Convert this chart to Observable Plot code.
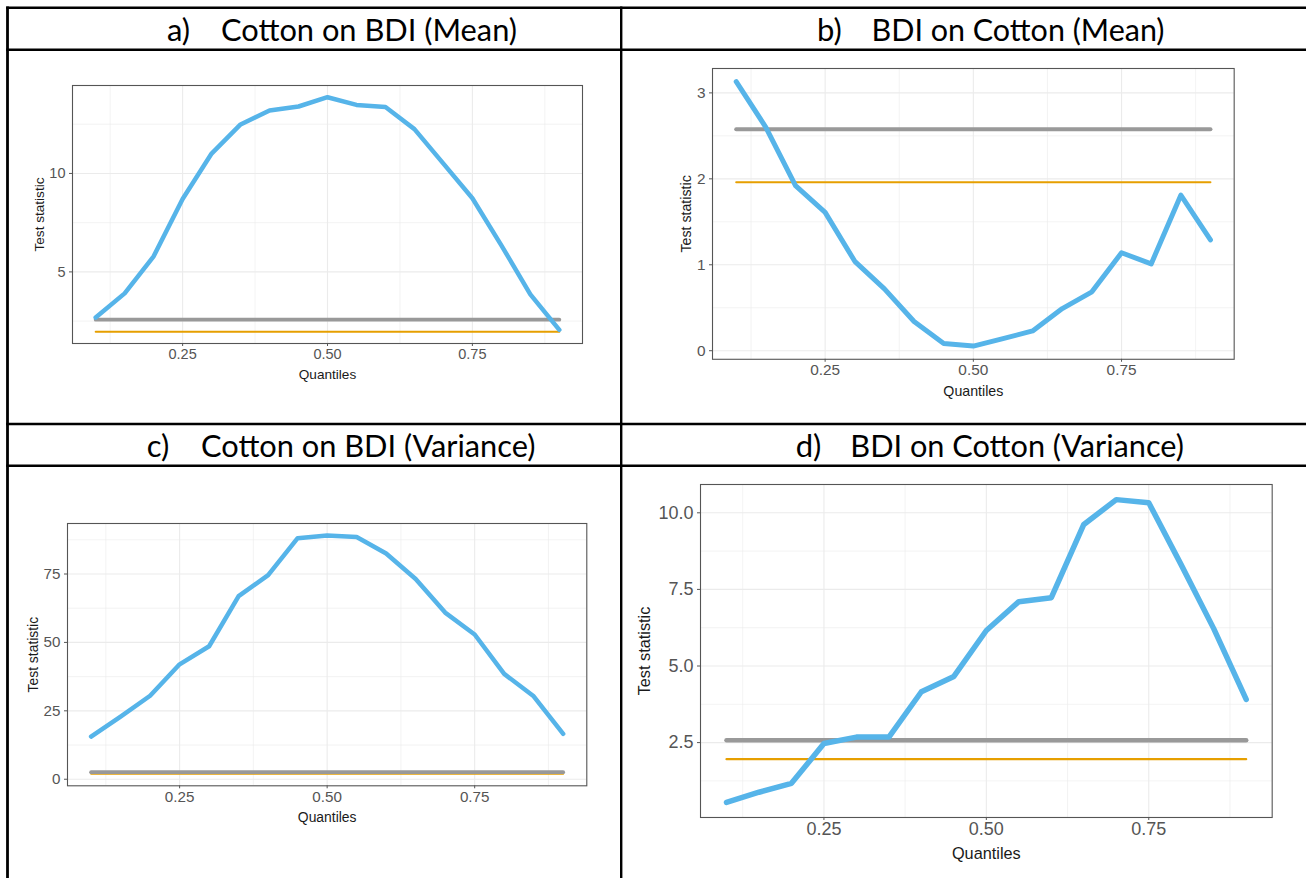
<!DOCTYPE html>
<html>
<head>
<meta charset="utf-8">
<script src="https://cdn.jsdelivr.net/npm/d3@7"></script>
<script src="https://cdn.jsdelivr.net/npm/@observablehq/plot@0.6"></script>
<style>
  html, body { margin: 0; padding: 0; background: #fff; }
  #page { position: relative; width: 1306px; height: 878px; overflow: hidden; background: #fff; }
  .panel { position: absolute; }
  #grid { position: absolute; left: 0; top: 0; z-index: 5; }
</style>
</head>
<body>
<div id="page"></div>
<script>
// Quantile levels at which the causality test statistic was evaluated
const quantiles = [0.10, 0.15, 0.20, 0.25, 0.30, 0.35, 0.40, 0.45, 0.50,
                   0.55, 0.60, 0.65, 0.70, 0.75, 0.80, 0.85, 0.90];

// Test statistics per quantile
const cottonOnBdiMean = [2.68, 3.91, 5.79, 8.70, 11.01, 12.49, 13.20, 13.40, 13.87,
                         13.48, 13.37, 12.25, 10.50, 8.74, 6.35, 3.86, 2.06];
const bdiOnCottonMean = [3.13, 2.60, 1.92, 1.61, 1.04, 0.72, 0.34, 0.085, 0.054,
                         0.14, 0.23, 0.49, 0.685, 1.14, 1.01, 1.81, 1.29];
const cottonOnBdiVariance = [15.6, 22.9, 30.5, 42.0, 48.6, 66.9, 74.6, 88.1, 89.1,
                             88.5, 82.5, 73.2, 60.9, 52.9, 38.5, 30.3, 16.6];
const bdiOnCottonVariance = [0.55, 0.88, 1.17, 2.47, 2.68, 2.68, 4.16, 4.66, 6.16,
                             7.10, 7.23, 9.62, 10.43, 10.33, 8.30, 6.22, 3.91];

// Critical values (5% and 1%)
const crit95 = 1.96;
const crit99 = 2.576;

// Axis ticks
const xTicks = [0.25, 0.50, 0.75];
const xMinorTicks = [0.125, 0.375, 0.625, 0.875];
const yTicksA = [5, 10],            yMinorA = [2.5, 7.5, 12.5];
const yTicksB = [0, 1, 2, 3],       yMinorB = [0.5, 1.5, 2.5];
const yTicksC = [0, 25, 50, 75],    yMinorC = [12.5, 37.5, 62.5, 87.5];
const yTicksD = [2.5, 5, 7.5, 10],  yMinorD = [1.25, 3.75, 6.25, 8.75];

// Panel headings
const panelLetters = ["a)", "b)", "c)", "d)"];
const panelTitles = ["Cotton on BDI (Mean)", "BDI on Cotton (Mean)",
                     "Cotton on BDI (Variance)", "BDI on Cotton (Variance)"];
const xLabel = "Quantiles";
const yLabel = "Test statistic";

const page = document.getElementById("page");
const BLUE = "#56B4E9", GREY = "#999999", ORANGE = "#E69F00";

function panel(values, cfg) {
  const rows = quantiles.map((q, i) => ({q, stat: values[i], z95: crit95, z99: crit99}));
  const all = values.concat([crit95, crit99]);
  const [lo, hi] = d3.extent(all);
  const pad = (hi - lo) * 0.05;
  const xs = d3.extent(quantiles), xpad = (xs[1] - xs[0]) * 0.05;
  const mL = 75, mR = 12, mT = 12, mB = 50;
  const grid = {stroke: "#EBEBEB", strokeOpacity: 1};
  const svg = Plot.plot({
    width: cfg.w + mL + mR,
    height: cfg.h + mT + mB,
    marginLeft: mL, marginRight: mR, marginTop: mT, marginBottom: mB,
    style: {fontFamily: "'Liberation Sans', Arial, sans-serif", background: "transparent", maxWidth: "none", overflow: "visible"},
    x: {domain: [xs[0] - xpad, xs[1] + xpad]},
    y: {domain: [lo - pad, hi + pad]},
    marks: [
      Plot.gridX(xMinorTicks, {...grid, strokeWidth: 0.6}),
      Plot.gridY(cfg.yMinor, {...grid, strokeWidth: 0.6}),
      Plot.gridX(xTicks, {...grid, strokeWidth: 1.1}),
      Plot.gridY(cfg.yTicks, {...grid, strokeWidth: 1.1}),
      Plot.line(rows, {x: "q", y: "z95", stroke: ORANGE, strokeWidth: cfg.wo}),
      Plot.line(rows, {x: "q", y: "z99", stroke: GREY, strokeWidth: cfg.wg}),
      Plot.line(rows, {x: "q", y: "stat", stroke: BLUE, strokeWidth: cfg.wb, strokeLinejoin: "round"}),
      Plot.frame({stroke: "#555555", strokeWidth: 1.1}),
      Plot.axisX(xTicks, {tickSize: 3, tickPadding: 2, tickFormat: d3.format(".2f"), fontSize: cfg.fTick, color: "#555555", label: null}),
      Plot.axisY(cfg.yTicks, {tickSize: 3, tickPadding: 4, tickFormat: cfg.yFormat, fontSize: cfg.fTick, color: "#555555", label: null}),
      Plot.text([xLabel], {frameAnchor: "bottom", dy: cfg.dyX, textAnchor: "middle", lineAnchor: "middle", fontSize: cfg.fTitle, fill: "#1a1a1a"}),
      Plot.text([yLabel], {frameAnchor: "left", dx: -cfg.dxY, rotate: -90, textAnchor: "middle", lineAnchor: "middle", fontSize: cfg.fTitle, fill: "#1a1a1a"})
    ]
  });
  const div = document.createElement("div");
  div.className = "panel";
  div.style.left = (cfg.left - mL) + "px";
  div.style.top = (cfg.top - mT) + "px";
  div.appendChild(svg);
  page.appendChild(div);
}

panel(cottonOnBdiMean, {left: 71.7, top: 85.3, w: 510, h: 258, yTicks: yTicksA, yMinor: yMinorA, yFormat: d3.format("d"),
  wb: 4.5, wg: 3.8, wo: 2, fTick: 14.5, fTitle: 13.6, dyX: 30.7, dxY: 32.7});
panel(bdiOnCottonMean, {left: 712, top: 67.5, w: 521.7, h: 290.8, yTicks: yTicksB, yMinor: yMinorB, yFormat: d3.format("d"),
  wb: 5, wg: 4, wo: 2, fTick: 15.4, fTitle: 14.2, dyX: 32.4, dxY: 26.3});
panel(cottonOnBdiVariance, {left: 66.7, top: 522.7, w: 519.3, h: 262.3, yTicks: yTicksC, yMinor: yMinorC, yFormat: d3.format("d"),
  wb: 4.5, wg: 3.8, wo: 2, fTick: 15.2, fTitle: 13.9, dyX: 31.7, dxY: 34.4});
panel(bdiOnCottonVariance, {left: 700.3, top: 483.7, w: 571.7, h: 333, yTicks: yTicksD, yMinor: yMinorD, yFormat: d3.format(".1f"),
  wb: 5.5, wg: 4.5, wo: 2.2, fTick: 18, fTitle: 16.3, dyX: 36.3, dxY: 55.3});

// Table rules and cell headings
const NS = "http://www.w3.org/2000/svg";
const g = document.createElementNS(NS, "svg");
g.setAttribute("id", "grid");
g.setAttribute("width", 1306);
g.setAttribute("height", 878);
function rule(x1, y1, x2, y2, w) {
  const l = document.createElementNS(NS, "line");
  l.setAttribute("x1", x1); l.setAttribute("y1", y1);
  l.setAttribute("x2", x2); l.setAttribute("y2", y2);
  l.setAttribute("stroke", "#000"); l.setAttribute("stroke-width", w);
  g.appendChild(l);
}
rule(6.2, 7.8, 1306, 7.8, 2.6);
rule(6.2, 49.8, 1306, 49.8, 2.4);
rule(6.2, 424, 1306, 424, 2.6);
rule(6.2, 465.7, 1306, 465.7, 2.4);
rule(7.5, 6.5, 7.5, 878, 2.8);
rule(621.2, 6.5, 621.2, 878, 2.4);

const heads = [
  {lx: 167, tx: 221, tw: 296, y: 40.7},
  {lx: 817, tx: 871.5, tw: 293, y: 40.7},
  {lx: 146.7, tx: 201, tw: 334.4, y: 456.7},
  {lx: 795.7, tx: 850.3, tw: 333.7, y: 456.7}
];
heads.forEach((h, i) => {
  const a = document.createElementNS(NS, "text");
  a.setAttribute("x", h.lx); a.setAttribute("y", h.y);
  a.setAttribute("font-family", "Lato, 'Open Sans', sans-serif");
  a.setAttribute("font-size", 31);
  a.textContent = panelLetters[i];
  g.appendChild(a);
  const t = document.createElementNS(NS, "text");
  t.setAttribute("x", h.tx); t.setAttribute("y", h.y);
  t.setAttribute("font-family", "Lato, 'Open Sans', sans-serif");
  t.setAttribute("font-size", 31);
  t.setAttribute("textLength", h.tw);
  t.setAttribute("lengthAdjust", "spacingAndGlyphs");
  t.textContent = panelTitles[i];
  g.appendChild(t);
});
page.appendChild(g);
</script>
</body>
</html>
